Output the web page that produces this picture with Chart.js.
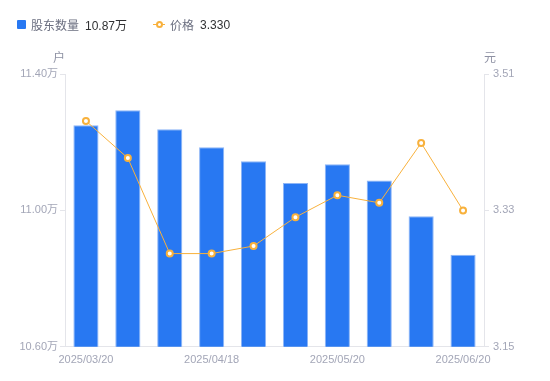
<!DOCTYPE html>
<html>
<head>
<meta charset="utf-8">
<script src="https://cdn.jsdelivr.net/npm/chart.js@4/dist/chart.umd.min.js"></script>
<style>
  html, body { margin: 0; padding: 0; background: #fff; }
  #wrap { position: relative; width: 550px; height: 381px; }
  #legend {
    position: absolute; left: 17px; top: 16px;
    font: 12px "Liberation Sans", "Noto Sans CJK SC", sans-serif;
    display: flex; align-items: center; white-space: nowrap;
  }
  #legend .name { color: #6b6f80; margin-right: 6px; }
  #legend .val { color: #303133; }
  .sq { width: 9px; height: 9px; background: #2878f2; border-radius: 1px; margin-right: 5px; }
  .ln { position: relative; width: 12px; height: 9px; margin-right: 5px; }
  .ln:before { content: ""; position: absolute; left: 0; right: 0; top: 4px; height: 1px; background: #f8b13c; }
  .ln:after { content: ""; position: absolute; left: 3px; top: 1px; width: 3px; height: 3px;
    border: 2px solid #f8b13c; border-radius: 50%; background: #fff; }
</style>
</head>
<body>
<div id="wrap">
  <canvas id="chart" width="550" height="381"></canvas>
  <div id="legend"></div>
</div>
<script>
/* ================= DATA ================= */
const dates = [
    "2025/03/20", "2025/03/31", "2025/04/10", "2025/04/18", "2025/04/30",
    "2025/05/10", "2025/05/20", "2025/05/31", "2025/06/10", "2025/06/20"
];
const holders = [11.250, 11.294, 11.238, 11.185, 11.144, 11.080, 11.135, 11.088, 10.983, 10.870];
const prices  = [3.448, 3.399, 3.273, 3.273, 3.283, 3.321, 3.350, 3.340, 3.419, 3.330];
const leftTicks  = [10.60, 11.00, 11.40];
const rightTicks = [3.15, 3.33, 3.51];

const FONT = '"Liberation Sans", "Noto Sans CJK SC", sans-serif';
const AXIS_COLOR = '#e4e5ea';
const TICK_COLOR = '#a3a6b7';

/* ================= LEGEND ================= */
document.getElementById('legend').innerHTML = `
    <span class="sq"></span><span class="name">股东数量</span>
    <span class="val">${holders[holders.length - 1].toFixed(2)}万</span>
    <span style="width:26px"></span>
    <span class="ln"></span><span class="name">价格</span>
    <span class="val">${prices[prices.length - 1].toFixed(3)}</span>
`;

/* ================= AXIS UNITS ================= */
const unitTitles = {
    id: 'unitTitles',
    afterDraw(chart) {
        const { ctx, chartArea, scales } = chart;
        ctx.save();
        ctx.font = '12px ' + FONT;
        ctx.fillStyle = '#8e91a3';
        ctx.textBaseline = 'bottom';
        ctx.textAlign = 'center';
        ctx.fillText('户', scales.y.right - 6, chartArea.top - 9);
        ctx.fillText('元', scales.y1.left + 6, chartArea.top - 9);
        ctx.restore();
    }
};

/* ================= CHART ================= */
new Chart(document.getElementById('chart'), {
    data: {
        labels: dates,
        datasets: [
            {
                type: 'line',
                label: '价格',
                data: prices,
                yAxisID: 'y1',
                borderColor: '#f8b13c',
                borderWidth: 1,
                pointRadius: 3,
                pointBorderWidth: 2,
                pointBackgroundColor: '#fff',
                pointBorderColor: '#f8b13c',
                tension: 0,
                order: 0
            },
            {
                type: 'bar',
                label: '股东数量',
                data: holders,
                yAxisID: 'y',
                backgroundColor: '#2878f2',
                borderColor: '#8db5f6',
                borderWidth: { top: 1, left: 1, right: 1, bottom: 0 },
                categoryPercentage: 0.6,
                barPercentage: 1,
                order: 1
            }
        ]
    },
    options: {
        responsive: false,
        animation: false,
        layout: { padding: { top: 74, bottom: 15, left: 0, right: 0 } },
        plugins: { legend: { display: false }, tooltip: { enabled: false } },
        scales: {
            x: {
                offset: true,
                grid: { display: false },
                border: { color: AXIS_COLOR },
                ticks: {
                    autoSkip: false,
                    maxRotation: 0,
                    padding: -1,
                    color: TICK_COLOR,
                    font: { family: FONT, size: 11 },
                    callback: (v, i) => (i % 3 === 0 ? dates[i] : '')
                }
            },
            y: {
                position: 'left',
                min: 10.6,
                max: 11.4,
                afterBuildTicks: s => { s.ticks = leftTicks.map(v => ({ value: v })); },
                afterFit: s => { s.width = 65; },
                grid: { drawOnChartArea: false, tickLength: 5, color: AXIS_COLOR },
                border: { color: AXIS_COLOR },
                ticks: {
                    padding: 2,
                    color: TICK_COLOR,
                    font: { family: FONT, size: 11 },
                    callback: v => v.toFixed(2) + '万'
                }
            },
            y1: {
                position: 'right',
                min: 3.15,
                max: 3.51,
                afterBuildTicks: s => { s.ticks = rightTicks.map(v => ({ value: v })); },
                afterFit: s => { s.width = 66; },
                grid: { drawOnChartArea: false, tickLength: 5, color: AXIS_COLOR },
                border: { color: AXIS_COLOR },
                ticks: {
                    padding: 4,
                    color: TICK_COLOR,
                    font: { family: FONT, size: 11 },
                    callback: v => v.toFixed(2)
                }
            }
        }
    },
    plugins: [unitTitles]
});
</script>
</body>
</html>
